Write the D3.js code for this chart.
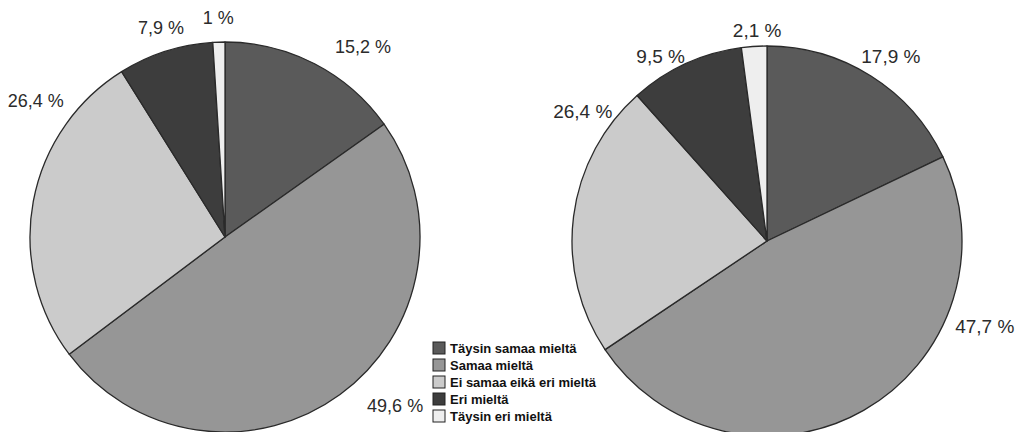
<!DOCTYPE html>
<html><head><meta charset="utf-8">
<script src="https://cdn.jsdelivr.net/npm/d3@7"></script>
<style>html,body{margin:0;padding:0;background:#fff;overflow:hidden}</style>
</head><body>
<svg id="chart" width="1024" height="432"></svg>
<script>
// ---- data ----
const categories = ["Täysin samaa mieltä", "Samaa mieltä", "Ei samaa eikä eri mieltä", "Eri mieltä", "Täysin eri mieltä"];
const leftValues = [15.2, 49.6, 26.4, 7.9, 1];
const leftLabels = ["15,2 %", "49,6 %", "26,4 %", "7,9 %", "1 %"];
const rightValues = [17.9, 47.7, 22.8, 9.5, 2.1];
const rightLabels = ["17,9 %", "47,7 %", "26,4 %", "9,5 %", "2,1 %"];
const colors = ["#5a5a5a", "#969696", "#cbcbcb", "#3d3d3d", "#eeeeee"];

// ---- layout ----
const W = 1024, H = 432;
const svg = d3.select("#chart");
svg.append("rect").attr("width", W).attr("height", H).attr("fill", "#fff");
const color = d3.scaleOrdinal().domain(categories).range(colors);

const pies = [
  { values: leftValues, labels: leftLabels, cx: 225, cy: 237, r: 195, font: 18,
    nudge: [8.6, -9, 25.2, 0.8, 0], dist: [235, 240, 233, 219, 219] },
  { values: rightValues, labels: rightLabels, cx: 767, cy: 241, r: 195, font: 19,
    nudge: [1.7, -38.8, 27.8, -5.3, 1.1], dist: [222, 234, 225, 213, 211] }
];

const pieGen = d3.pie().sort(null).value(d => d.v);

pies.forEach(p => {
  const data = categories.map((c, i) => ({ c, v: p.values[i], label: p.labels[i], i }));
  const arcs = pieGen(data);
  const arc = d3.arc().innerRadius(0).outerRadius(p.r);
  const g = svg.append("g").attr("transform", `translate(${p.cx},${p.cy})`);
  g.selectAll("path").data(arcs).join("path")
    .attr("d", arc)
    .attr("fill", d => color(d.data.c))
    .attr("stroke", "#2a2a2a")
    .attr("stroke-width", 1.3)
    .attr("stroke-linejoin", "round");
  g.selectAll("text").data(arcs).join("text")
    .attr("x", d => {
      const a = (d.startAngle + d.endAngle) / 2 + p.nudge[d.index] * Math.PI / 180;
      return Math.sin(a) * p.dist[d.index];
    })
    .attr("y", d => {
      const a = (d.startAngle + d.endAngle) / 2 + p.nudge[d.index] * Math.PI / 180;
      return -Math.cos(a) * p.dist[d.index];
    })
    .attr("text-anchor", "middle")
    .attr("dominant-baseline", "central")
    .attr("font-family", "Liberation Sans, Arial, sans-serif")
    .attr("font-size", p.font)
    .attr("fill", "#2b2b2b")
    .text(d => d.data.label);
});

// ---- legend ----
const leg = svg.append("g").attr("transform", "translate(433,348)");
const rows = leg.selectAll("g").data(categories).join("g")
  .attr("transform", (d, i) => `translate(0,${i * 17})`);
rows.append("rect")
  .attr("x", 0).attr("y", -6).attr("width", 12).attr("height", 12)
  .attr("fill", d => color(d)).attr("stroke", "#222").attr("stroke-width", 1);
rows.append("text")
  .attr("x", 17).attr("y", 0.5)
  .attr("dominant-baseline", "central")
  .attr("font-family", "Liberation Sans, Arial, sans-serif")
  .attr("font-size", 13).attr("font-weight", "bold")
  .attr("fill", "#111")
  .text(d => d);
</script>
</body></html>
